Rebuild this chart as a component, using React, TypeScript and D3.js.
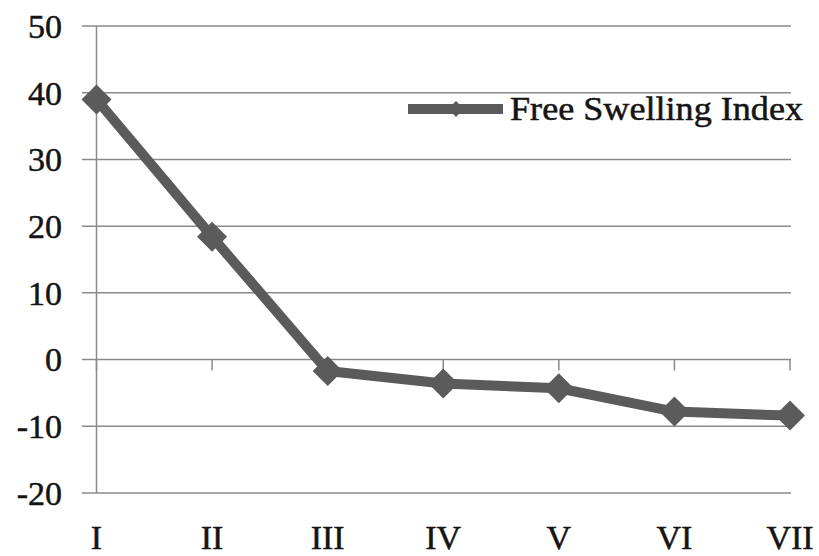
import React from "react";
import * as d3 from "d3";

const categories = ["I", "II", "III", "IV", "V", "VI", "VII"];
const swellingIndex = [39, 18.4, -1.7, -3.6, -4.3, -7.8, -8.4];
const yTicks = [-20, -10, 0, 10, 20, 30, 40, 50];
const seriesName = "Free Swelling Index";

const W = 819;
const H = 556;
const FONT = "'Liberation Serif', 'DejaVu Serif', serif";
const GRID = "#8a8a8a";
const LINE = "#5b5b5b";
const TEXT = "#141414";

export default function App() {
  const x = d3
    .scalePoint<string>()
    .domain(categories)
    .range([96.5, 790]);
  const y = d3.scaleLinear().domain([-20, 50]).range([493, 26]);

  const line = d3
    .line<number>()
    .x((_, i) => x(categories[i]) as number)
    .y((d) => y(d));

  const diamond = (cx: number, cy: number, r: number) =>
    `M${cx},${cy - r}L${cx + r},${cy}L${cx},${cy + r}L${cx - r},${cy}Z`;

  const textStyle = {
    fontFamily: FONT,
    fill: TEXT,
    stroke: TEXT,
    strokeWidth: 0.5,
  };

  return (
    <svg
      width={W}
      height={H}
      style={{ position: "absolute", left: 0, top: 0, background: "#fff" }}
    >
      {/* horizontal gridlines with outer ticks */}
      {yTicks.map((t) => (
        <line
          key={t}
          x1={82}
          x2={791}
          y1={y(t)}
          y2={y(t)}
          stroke={GRID}
          strokeWidth={1.5}
        />
      ))}
      {/* value axis */}
      <line x1={96.5} x2={96.5} y1={y(50)} y2={y(-20)} stroke={GRID} strokeWidth={1.5} />
      {/* category ticks on the zero line */}
      {categories.map((c) => (
        <line
          key={c}
          x1={x(c)}
          x2={x(c)}
          y1={y(0)}
          y2={y(0) + 11}
          stroke={GRID}
          strokeWidth={1.5}
        />
      ))}
      {/* y tick labels */}
      {yTicks.map((t) => (
        <text
          key={t}
          x={62}
          y={y(t)}
          dy="0.35em"
          textAnchor="end"
          fontSize={34}
          style={textStyle}
        >
          {t}
        </text>
      ))}
      {/* category labels */}
      {categories.map((c) => (
        <text
          key={c}
          x={x(c)}
          y={549}
          textAnchor="middle"
          fontSize={34}
          style={textStyle}
        >
          {c}
        </text>
      ))}
      {/* series */}
      <path
        d={line(swellingIndex) ?? ""}
        fill="none"
        stroke={LINE}
        strokeWidth={10}
        strokeLinejoin="round"
      />
      {swellingIndex.map((v, i) => (
        <path
          key={i}
          d={diamond(x(categories[i]) as number, y(v), 15)}
          fill={LINE}
        />
      ))}
      {/* legend */}
      <line x1={408} x2={503} y1={109} y2={109} stroke={LINE} strokeWidth={10} />
      <path d={diamond(456, 109, 8)} fill={LINE} />
      <text
        x={510}
        y={120}
        fontSize={33}
        textLength={293}
        lengthAdjust="spacingAndGlyphs"
        style={textStyle}
      >
        {seriesName}
      </text>
    </svg>
  );
}
